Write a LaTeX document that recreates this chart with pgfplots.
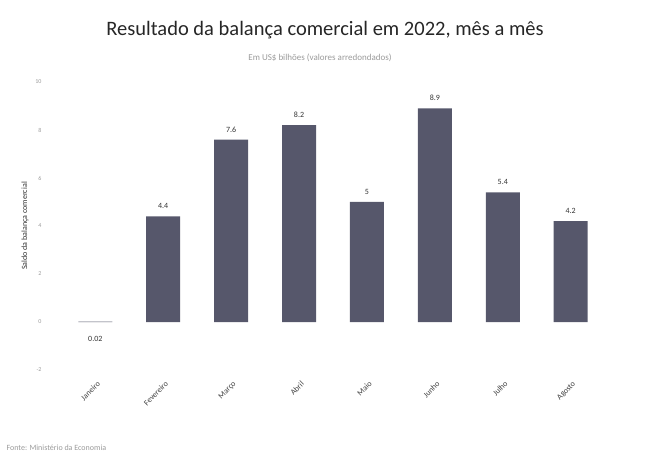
\documentclass[border=0pt]{standalone}
\usepackage{pgfplots}
\pgfplotsset{compat=1.18}
\usepackage{fontspec}
\setmainfont{Carlito}
\definecolor{barc}{HTML}{56576B}
\definecolor{txtgrey}{HTML}{9A9A9A}
\begin{document}
\begin{tikzpicture}
\path[use as bounding box] (0,0) rectangle (668pt,455pt);
\begin{axis}[
  at={(41pt,85pt)}, anchor=south west,
  scale only axis, width=584pt, height=288pt,
  xmin=-0.8, xmax=7.8, ymin=-2, ymax=10,
  axis line style={draw=none},
  tick style={draw=none},
  xtick={0,...,7},
  xticklabels={Janeiro,Fevereiro,Março,Abril,Maio,Junho,Julho,Agosto},
  xticklabel style={rotate=45, anchor=north east, font=\fontsize{8}{9}\selectfont, text=black!75, yshift=-2pt},
  ytick={-2,0,...,10},
  yticklabel style={font=\fontsize{6}{7}\selectfont, text=txtgrey, xshift=4pt},
  /pgf/number format/assume math mode=true,
  ylabel={Saldo da balança comercial},
  ylabel style={font=\fontsize{8}{9}\selectfont, text=black!80},
  ybar, bar width=34pt,
  nodes near coords,
  nodes near coords style={font=\fontsize{8}{9}\selectfont, text=black!80, yshift=4pt},
  point meta=explicit symbolic,
]
\addplot[fill=barc, draw=none] coordinates {
 (0,0.02) [{}]
 (1,4.4) [4.4]
 (2,7.6) [7.6]
 (3,8.2) [8.2]
 (4,5) [5]
 (5,8.9) [8.9]
 (6,5.4) [5.4]
 (7,4.2) [4.2]
};
\node[font=\fontsize{8}{9}\selectfont, text=black!80] at (axis cs:0,-0.7) {0.02};
\end{axis}
\node[font=\fontsize{20.5}{22}\selectfont, text=black!85] at (325pt,425pt) {Resultado da balança comercial em 2022, mês a mês};
\node[font=\fontsize{9}{10}\selectfont, text=txtgrey] at (320pt,397pt) {Em US\$ bilhões (valores arredondados)};
\node[font=\fontsize{8}{9}\selectfont, text=txtgrey, anchor=west] at (3pt,7pt) {Fonte: Ministério da Economia};
\end{tikzpicture}
\end{document}
